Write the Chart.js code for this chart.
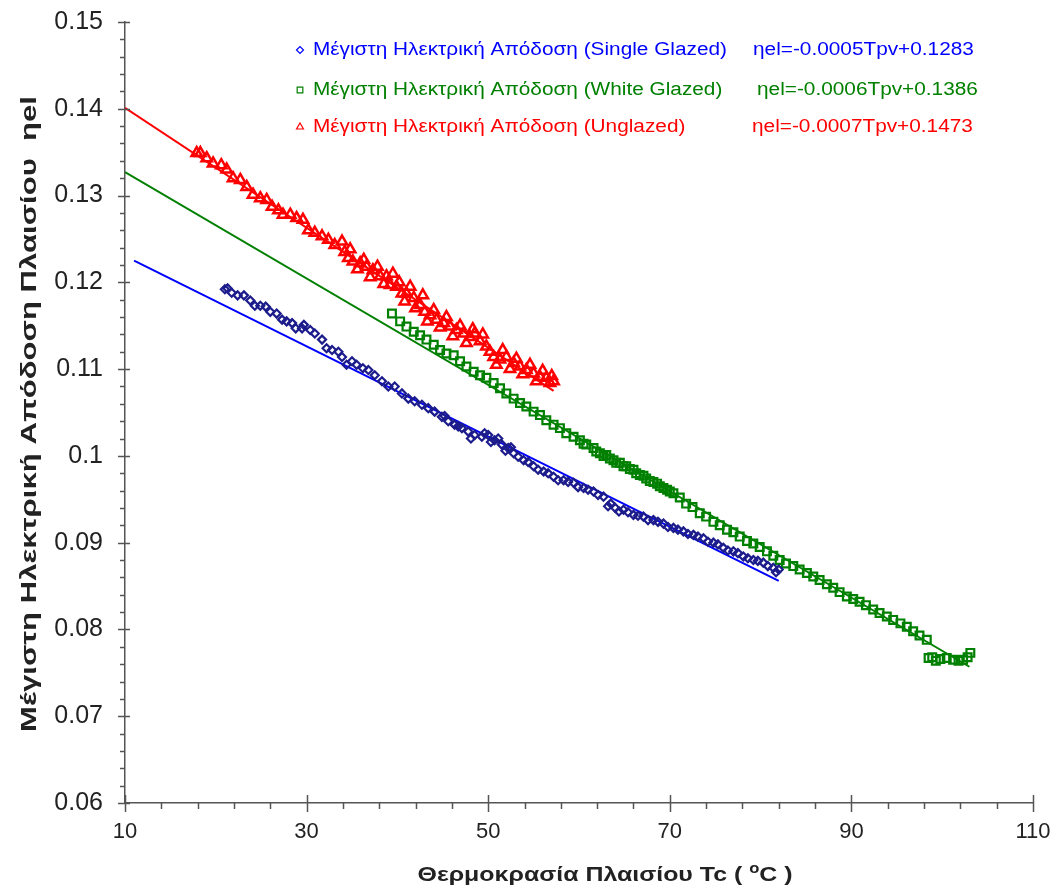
<!DOCTYPE html>
<html>
<head>
<meta charset="utf-8">
<script src="https://cdn.jsdelivr.net/npm/chart.js@4.4.0/dist/chart.umd.min.js"></script>
<style>
  html, body { margin: 0; padding: 0; background: #fff; }
  #wrap { width: 1058px; height: 890px; }
</style>
</head>
<body>
<div id="wrap"><canvas id="c" width="1058" height="890"></canvas></div>
<script>
// Max electrical efficiency vs panel temperature (three PV/T configurations)

const singleT = [21.0, 21.3, 21.75, 22.4, 23.1, 23.8, 24.3, 24.9, 25.5, 26.0, 26.7, 27.3, 27.8, 28.4, 28.8, 29.5, 29.7, 30.4, 30.9, 31.7, 32.2, 32.8, 33.5, 33.9, 34.4, 35.0, 35.5, 36.2, 36.8, 37.5, 38.3, 39.0, 39.7, 40.5, 41.2, 41.9, 42.7, 43.4, 44.1, 44.9, 45.6, 46.3, 47.1, 47.8, 48.5, 49.3, 50.0, 50.7, 51.5, 52.2, 52.8, 53.9, 55.0, 56.1, 57.2, 58.3, 59.4, 60.5, 61.6, 62.7, 63.2, 64.0, 64.9, 66.0, 67.1, 68.2, 69.3, 70.4, 71.5, 72.6, 73.7, 74.8, 75.9, 77.0, 78.1, 79.2, 80.3, 81.4, 82.0,
  45.2, 46.7, 48.1, 49.6, 50.3, 51.1, 51.9, 52.5, 53.3, 54.4, 55.5, 56.6, 57.7, 58.8, 59.9, 61.0, 62.1, 63.5, 64.4, 65.4, 66.5, 67.6, 68.7, 69.8, 70.9, 72.0, 73.1, 74.2, 75.3, 76.4, 77.5, 78.6, 79.7, 80.8, 81.7];
const singleEta = [0.1192, 0.1193, 0.1188, 0.1185, 0.1185, 0.1179, 0.1173, 0.1173, 0.1172, 0.1166, 0.1164, 0.1157, 0.1155, 0.1153, 0.1147, 0.1147, 0.1151, 0.1145, 0.1141, 0.1134, 0.1124, 0.1122, 0.1120, 0.1114, 0.1105, 0.1109, 0.1105, 0.1101, 0.1099, 0.1093, 0.1086, 0.1080, 0.1080, 0.1072, 0.1066, 0.1063, 0.1059, 0.1055, 0.1051, 0.1045, 0.1040, 0.1036, 0.1032, 0.1028, 0.1024, 0.1022, 0.1024, 0.1018, 0.1013, 0.1009, 0.1003, 0.0995, 0.0988, 0.0982, 0.0976, 0.0972, 0.0969, 0.0963, 0.0959, 0.0953, 0.0942, 0.0940, 0.0938, 0.0932, 0.0930, 0.0926, 0.0922, 0.0917, 0.0913, 0.0909, 0.0905, 0.0900, 0.0894, 0.0890, 0.0884, 0.0880, 0.0877, 0.0871, 0.0869,
  0.1046, 0.1034, 0.1020, 0.1026, 0.1016, 0.1020, 0.1006, 0.1010, 0.0999, 0.0993, 0.0984, 0.0980, 0.0972, 0.0970, 0.0964, 0.0961, 0.0955, 0.0945, 0.0936, 0.0935, 0.0931, 0.0926, 0.0924, 0.0918, 0.0915, 0.0910, 0.0907, 0.0901, 0.0898, 0.0891, 0.0888, 0.0882, 0.0879, 0.0873, 0.0866];

// White glazed
const whiteT = [39.4, 40.3, 41.0, 41.8, 42.5, 43.2, 44.0, 44.7, 45.4, 46.2, 46.9, 47.6, 48.4, 49.1, 49.8, 50.6, 51.3, 52.0, 52.8, 53.5, 54.2, 55.0, 55.7, 56.4, 57.2, 57.9, 58.6, 59.4, 60.1, 60.8, 61.6, 62.3, 63.0, 63.8, 64.5, 65.2, 66.0, 66.7, 67.4, 68.2, 68.9, 69.7, 70.4, 71.8, 73.3, 74.8, 76.3, 77.7, 79.2, 80.7, 82.1, 83.6, 85.1, 86.5, 88.0, 89.5, 90.9, 92.4, 93.9, 95.4, 96.8, 98.3, 98.5, 99.8, 101.2, 102.3, 103.1,
  60.5, 61.9, 62.7, 63.4, 64.1, 64.9, 65.6, 66.3, 67.1, 67.8, 68.6, 69.3, 70.0, 71.1, 72.5, 74.0, 75.5, 77.0, 78.5, 79.9, 81.4, 82.8, 84.3, 85.8, 87.3, 88.7, 90.2, 91.6, 93.1, 94.6, 96.1, 97.5, 98.9, 99.3, 100.5, 101.8, 102.8];
const whiteEta = [0.1164, 0.1155, 0.1149, 0.1143, 0.1139, 0.1134, 0.1128, 0.1122, 0.1118, 0.1116, 0.1109, 0.1103, 0.1097, 0.1093, 0.1090, 0.1084, 0.1078, 0.1072, 0.1066, 0.1061, 0.1057, 0.1051, 0.1047, 0.1041, 0.1036, 0.1032, 0.1026, 0.1022, 0.1018, 0.1013, 0.1009, 0.1003, 0.1001, 0.0995, 0.0992, 0.0988, 0.0984, 0.0978, 0.0974, 0.0970, 0.0965, 0.0961, 0.0957, 0.0945, 0.0934, 0.0924, 0.0915, 0.0907, 0.0899, 0.0890, 0.0880, 0.0873, 0.0865, 0.0857, 0.0848, 0.0838, 0.0832, 0.0823, 0.0815, 0.0807, 0.0798, 0.0788, 0.0767, 0.0766, 0.0765, 0.0765, 0.0773,
  0.1014, 0.1005, 0.1000, 0.0997, 0.0992, 0.0988, 0.0985, 0.0980, 0.0977, 0.0971, 0.0968, 0.0963, 0.0959, 0.0952, 0.0941, 0.0930, 0.0920, 0.0912, 0.0902, 0.0895, 0.0885, 0.0876, 0.0869, 0.0861, 0.0852, 0.0843, 0.0835, 0.0828, 0.0819, 0.0811, 0.0803, 0.0793, 0.0768, 0.0764, 0.0767, 0.0764, 0.0768];

// Unglazed
const unglT = [17.9, 18.3, 19.0, 19.7, 20.6, 21.2, 21.9, 22.7, 23.4, 24.1, 24.9, 25.6, 26.2, 26.9, 27.4, 28.2, 28.9, 29.6, 30.2, 30.9, 31.7, 32.4, 33.1, 33.9, 34.2, 34.6, 35.1, 35.9, 36.6, 37.3, 38.1, 38.8, 39.2, 39.9, 40.5, 41.0, 41.8, 42.5, 43.0, 43.6, 44.3, 45.1, 45.8, 46.5, 47.3, 48.0, 48.5, 49.1, 49.8, 50.6, 51.3, 52.0, 52.8, 53.5, 54.2, 55.0, 55.7, 56.4, 57.2,
  34.8, 35.6, 36.3, 37.0, 37.8, 38.5, 39.5, 40.2, 40.8, 41.4, 42.0, 42.8, 43.3, 44.0, 44.7, 45.4, 46.1, 46.9, 47.6, 48.3, 49.4, 50.2, 50.9, 51.6, 52.4, 53.1, 53.8, 54.6, 55.3, 56.0, 56.8, 57.0];
const unglEta = [0.1349, 0.1349, 0.1343, 0.1337, 0.1335, 0.1330, 0.1320, 0.1318, 0.1310, 0.1301, 0.1297, 0.1295, 0.1287, 0.1283, 0.1278, 0.1278, 0.1274, 0.1272, 0.1260, 0.1257, 0.1253, 0.1249, 0.1243, 0.1247, 0.1235, 0.1228, 0.1224, 0.1222, 0.1218, 0.1214, 0.1207, 0.1207, 0.1197, 0.1195, 0.1187, 0.1187, 0.1182, 0.1174, 0.1166, 0.1162, 0.1157, 0.1153, 0.1149, 0.1145, 0.1141, 0.1137, 0.1141, 0.1132, 0.1126, 0.1114, 0.1111, 0.1114, 0.1107, 0.1103, 0.1099, 0.1095, 0.1091, 0.1090, 0.1086,
  0.1238, 0.1215, 0.1226, 0.1206, 0.1218, 0.1198, 0.1210, 0.1200, 0.1178, 0.1195, 0.1170, 0.1185, 0.1155, 0.1168, 0.1148, 0.1160, 0.1138, 0.1150, 0.1130, 0.1146, 0.1140, 0.1120, 0.1105, 0.1122, 0.1100, 0.1112, 0.1094, 0.1105, 0.1086, 0.1098, 0.1084, 0.1092];

// linear fit lines (end points as drawn)
const singleFitT = [11, 82];
const singleFitEta = [0.1225, 0.0856];
const whiteFitT = [10, 103];
const whiteFitEta = [0.1327, 0.0757];
const unglFitT = [10, 57.2];
const unglFitEta = [0.1401, 0.1075];

const seriesNames = [
  'Μέγιστη Ηλεκτρική Απόδοση (Single Glazed)',
  'Μέγιστη Ηλεκτρική Απόδοση (White Glazed)',
  'Μέγιστη Ηλεκτρική Απόδοση (Unglazed)'
];
const fitLabels = ['ηel=-0.0005Tpv+0.1283', 'ηel=-0.0006Tpv+0.1386', 'ηel=-0.0007Tpv+0.1473'];

const xTicks = [10, 30, 50, 70, 90, 110];
const yTicks = [0.06, 0.07, 0.08, 0.09, 0.1, 0.11, 0.12, 0.13, 0.14, 0.15];
const yTickLabels = ['0.06', '0.07', '0.08', '0.09', '0.1', '0.11', '0.12', '0.13', '0.14', '0.15'];

const FONT = 'Arial, "Liberation Sans", sans-serif';
const AXIS_COLOR = '#555';
const colors = {
  singleMark: '#1c1c8c',
  single: '#0000ff',
  white: '#008000',
  ungl: '#ff0000'
};

const toPoints = (xs, ys) => xs.map((x, i) => ({ x: x, y: ys[i] }));

// text squeezed/stretched along its own direction
function stretchedText(ctx, text, x, y, sx) {
  ctx.save();
  ctx.translate(x, y);
  ctx.scale(sx, 1);
  ctx.fillText(text, 0, 0);
  ctx.restore();
}

// draws minor/major tick marks, axis titles and the legend block
const decorPlugin = {
  id: 'decor',
  afterDraw(chart) {
    const ctx = chart.ctx;
    const xs = chart.scales.x, ys = chart.scales.y;
    const x0 = xs.left, y0 = ys.bottom;
    ctx.save();
    ctx.strokeStyle = AXIS_COLOR;
    ctx.lineWidth = 1.5;
    ctx.beginPath();
    for (let i = 0; i <= 45; i++) {
      const py = Math.round(ys.getPixelForValue(0.06 + i * 0.002)) + 0.5;
      if (i % 5 === 0) { ctx.moveTo(x0 - 7, py); ctx.lineTo(x0 + 5, py); }
      else { ctx.moveTo(x0 - 5, py); ctx.lineTo(x0, py); }
    }
    for (let i = 0; i <= 25; i++) {
      const px = Math.round(xs.getPixelForValue(10 + i * 4)) + 0.5;
      if (i % 5 === 0) { ctx.moveTo(px, y0 - 8); ctx.lineTo(px, y0 + 9); }
      else { ctx.moveTo(px, y0); ctx.lineTo(px, y0 + 6); }
    }
    ctx.stroke();

    ctx.fillStyle = '#222';
    ctx.textAlign = 'left';

    // x axis title with superscript o
    const a = 'Θερμοκρασία Πλαισίου Tc ( ', sup = 'o', b = 'C )';
    const bold = 'bold 21px ' + FONT, small = 'bold 14px ' + FONT;
    ctx.textBaseline = 'alphabetic';
    ctx.font = bold;
    const wa = ctx.measureText(a).width, wb = ctx.measureText(b).width;
    ctx.font = small;
    const ws = ctx.measureText(sup).width;
    const xsx = 375 / (wa + ws + wb);
    let tx = 605 - xsx * (wa + ws + wb) / 2;
    const base = 881;
    ctx.font = bold; stretchedText(ctx, a, tx, base, xsx); tx += wa * xsx;
    ctx.font = small; stretchedText(ctx, sup, tx, base - 8, xsx); tx += ws * xsx;
    ctx.font = bold; stretchedText(ctx, b, tx, base, xsx);

    // y axis title, rotated
    const yt = 'Μέγιστη Ηλεκτρική Απόδοση Πλαισίου  ηel';
    ctx.font = 'bold 22px ' + FONT;
    const wy = ctx.measureText(yt).width;
    const ysx = 636 / wy;
    ctx.save();
    ctx.translate(36, 414);
    ctx.rotate(-Math.PI / 2);
    ctx.textAlign = 'center';
    ctx.scale(ysx, 1);
    ctx.fillText(yt, 0, 0);
    ctx.restore();

    // legend
    const rows = [
      { y: 50, c: colors.single, style: 'rectRot', r: 3.5, eqX: 753 },
      { y: 90, c: colors.white, style: 'rect', r: 4, eqX: 757 },
      { y: 127, c: colors.ungl, style: 'triangle', r: 4, eqX: 752 }
    ];
    ctx.font = '18px ' + FONT;
    ctx.textBaseline = 'middle';
    const lsx = 414 / ctx.measureText(seriesNames[0]).width;
    rows.forEach((row, i) => {
      ctx.strokeStyle = row.c;
      ctx.fillStyle = 'rgba(0,0,0,0)';
      ctx.lineWidth = 1.2;
      Chart.helpers.drawPoint(ctx, { pointStyle: row.style, radius: row.r, borderWidth: 1.2, rotation: 0 }, 300, row.y);
      ctx.fillStyle = row.c;
      stretchedText(ctx, seriesNames[i], 313, row.y, lsx);
      stretchedText(ctx, fitLabels[i], row.eqX, row.y, lsx);
    });
    ctx.restore();
  }
};

const markerSet = (data, color, style, radius, width) => ({
  type: 'scatter',
  data: data,
  pointStyle: style,
  pointRadius: radius,
  pointHoverRadius: radius,
  pointBorderWidth: width,
  borderColor: color,
  backgroundColor: 'rgba(0,0,0,0)',
  showLine: false
});

const fitSet = (data, color) => ({
  type: 'line',
  data: data,
  borderColor: color,
  borderWidth: 2,
  pointRadius: 0,
  fill: false,
  tension: 0
});

new Chart(document.getElementById('c'), {
  type: 'scatter',
  data: {
    datasets: [
      markerSet(toPoints(singleT, singleEta), colors.singleMark, 'rectRot', 4, 2.2),
      markerSet(toPoints(whiteT, whiteEta), colors.white, 'rect', 5.5, 2.2),
      markerSet(toPoints(unglT, unglEta), colors.ungl, 'triangle', 6, 2.5),
      fitSet(toPoints(singleFitT, singleFitEta), colors.single),
      fitSet(toPoints(whiteFitT, whiteFitEta), colors.white),
      fitSet(toPoints(unglFitT, unglFitEta), colors.ungl)
    ]
  },
  options: {
    responsive: false,
    animation: false,
    layout: { padding: { top: 22, right: 25, left: 0, bottom: 0 } },
    plugins: {
      legend: { display: false },
      tooltip: { enabled: false }
    },
    scales: {
      x: {
        type: 'linear',
        min: 10,
        max: 110,
        afterBuildTicks: s => { s.ticks = xTicks.map(v => ({ value: v })); },
        afterFit: s => { s.height = 87; s.paddingLeft = 0; s.paddingRight = 0; },
        grid: { display: false, drawTicks: false },
        border: { display: true, color: AXIS_COLOR, width: 1.5 },
        ticks: { autoSkip: false, maxRotation: 0, padding: 16, color: '#222', font: { family: FONT, size: 22 } },
        title: { display: false }
      },
      y: {
        type: 'linear',
        min: 0.06,
        max: 0.15,
        afterBuildTicks: s => { s.ticks = yTicks.map(v => ({ value: v })); },
        afterFit: s => { s.width = 125; s.paddingTop = 0; s.paddingBottom = 0; },
        grid: { display: false, drawTicks: false },
        border: { display: true, color: AXIS_COLOR, width: 1.5 },
        ticks: {
          padding: 22, color: '#222', font: { family: FONT, size: 25 },
          callback: (v, i) => yTickLabels[i]
        },
        title: { display: false }
      }
    }
  },
  plugins: [decorPlugin]
});
</script>
</body>
</html>
